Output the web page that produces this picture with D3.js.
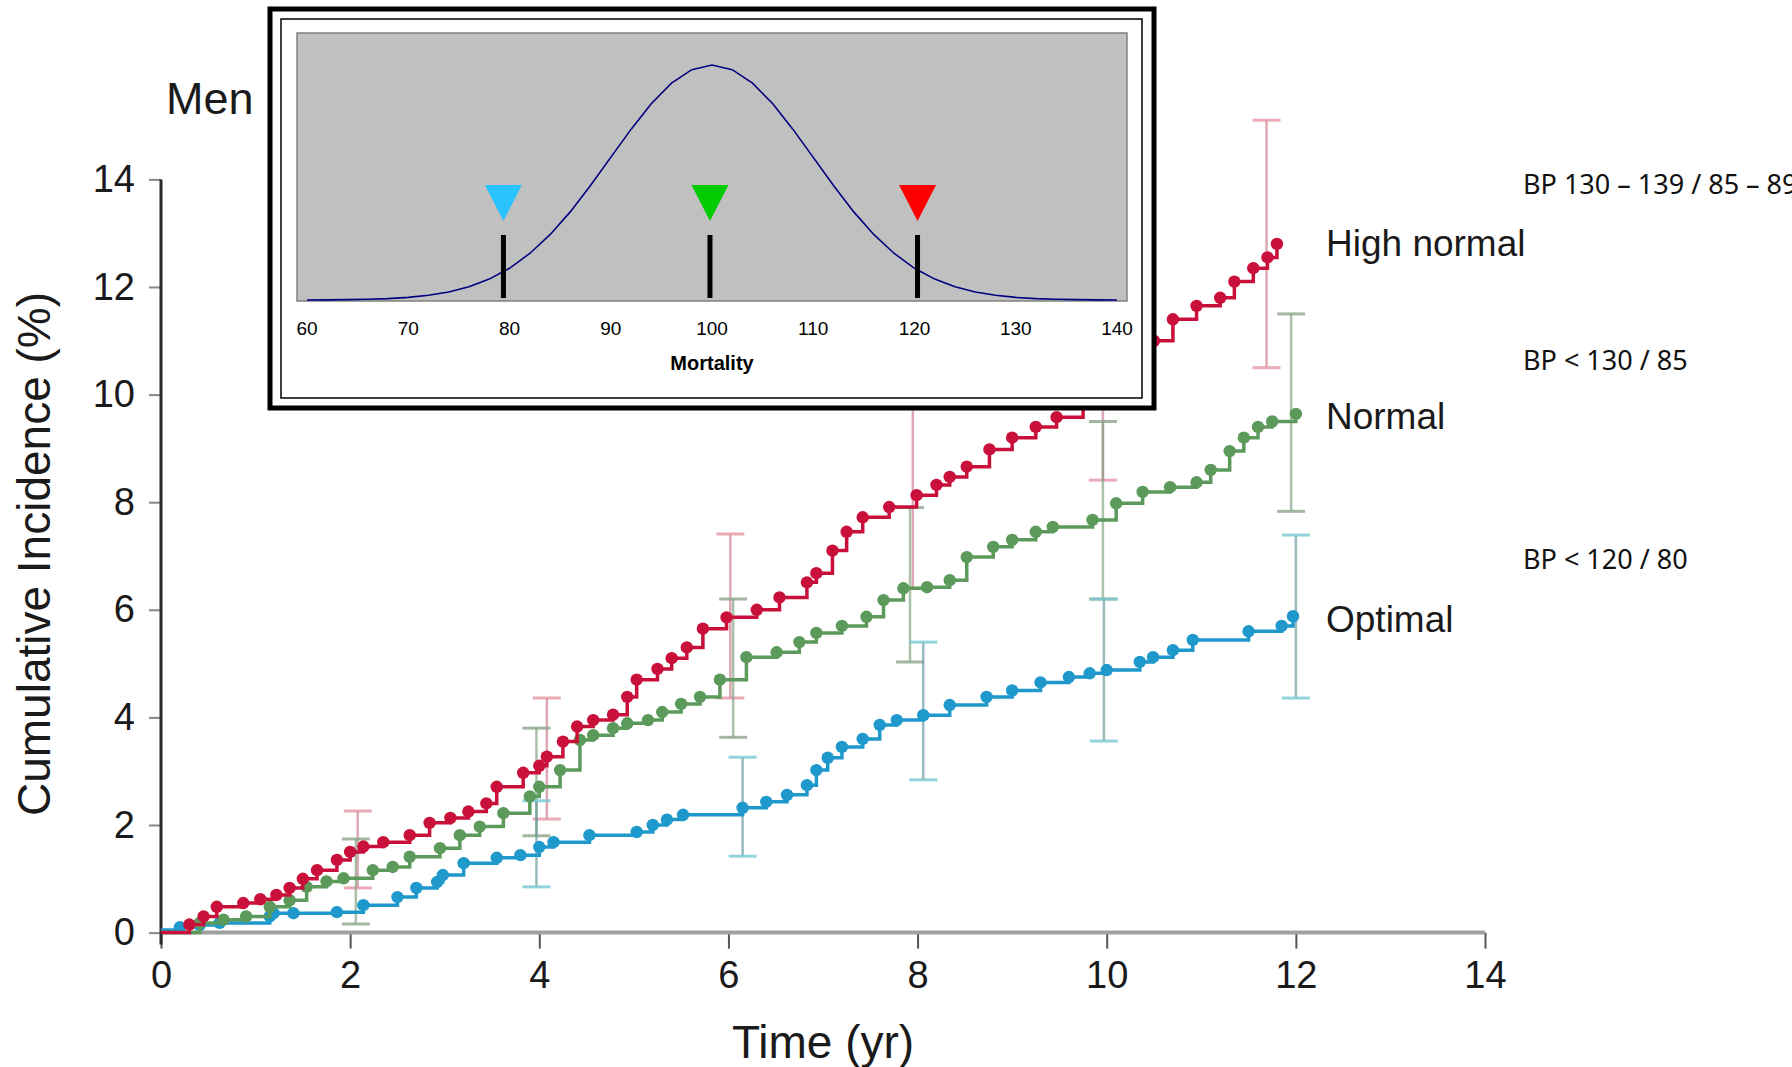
<!DOCTYPE html>
<html lang="en">
<head>
<meta charset="utf-8">
<title>Men - cumulative incidence</title>
<script src="https://cdn.jsdelivr.net/npm/d3@7"></script>
<style>
  body { margin: 0; background: #fff; }
  text { font-family: "Liberation Sans", Arial, sans-serif; }
</style>
</head>
<body>
<div id="stage"></div>
<script>
// --- data ---
var xTicks = [0, 2, 4, 6, 8, 10, 12, 14];
var yTicks = [0, 2, 4, 6, 8, 10, 12, 14];

// [time (yr), cumulative incidence (%)]
var highNormal = [[0,0],[0.3,0.15],[0.45,0.3],[0.59,0.48],[0.87,0.55],[1.05,0.62],[1.22,0.7],[1.36,0.83],[1.5,1.0],[1.65,1.16],[1.86,1.35],[2.0,1.5],[2.14,1.6],[2.35,1.68],[2.63,1.81],[2.84,2.04],[3.06,2.13],[3.25,2.25],[3.44,2.4],[3.55,2.71],[3.83,2.97],[4.0,3.1],[4.08,3.27],[4.25,3.55],[4.4,3.83],[4.57,3.95],[4.78,4.05],[4.93,4.38],[5.03,4.7],[5.25,4.9],[5.4,5.1],[5.56,5.3],[5.73,5.65],[5.98,5.86],[6.3,6.0],[6.54,6.23],[6.83,6.51],[6.93,6.68],[7.1,7.1],[7.25,7.45],[7.42,7.72],[7.7,7.91],[7.99,8.13],[8.2,8.32],[8.34,8.47],[8.52,8.66],[8.76,8.98],[9.0,9.2],[9.25,9.4],[9.47,9.58],[9.75,9.86],[9.95,10.05],[10.15,10.4],[10.35,10.75],[10.5,11.0],[10.7,11.4],[10.95,11.65],[11.2,11.8],[11.35,12.1],[11.55,12.35],[11.7,12.55],[11.8,12.8]];
var normal = [[0,0],[0.41,0.18],[0.66,0.24],[0.9,0.3],[1.15,0.48],[1.36,0.6],[1.54,0.85],[1.75,0.95],[1.93,1.01],[2.24,1.16],[2.45,1.22],[2.63,1.41],[2.95,1.57],[3.16,1.81],[3.37,1.97],[3.62,2.22],[3.9,2.53],[4.0,2.71],[4.22,3.02],[4.43,3.58],[4.57,3.67],[4.78,3.8],[4.93,3.89],[5.15,3.95],[5.3,4.1],[5.5,4.25],[5.7,4.38],[5.91,4.7],[6.19,5.12],[6.51,5.21],[6.75,5.4],[6.93,5.57],[7.2,5.7],[7.46,5.87],[7.64,6.18],[7.85,6.4],[8.1,6.42],[8.34,6.55],[8.52,6.98],[8.8,7.17],[9.0,7.3],[9.25,7.45],[9.43,7.54],[9.85,7.67],[10.1,7.98],[10.38,8.19],[10.67,8.28],[10.95,8.37],[11.1,8.6],[11.3,8.95],[11.45,9.2],[11.6,9.4],[11.75,9.5],[12.0,9.64]];
var optimal = [[0,0.05],[0.2,0.1],[0.41,0.14],[0.62,0.18],[1.15,0.3],[1.19,0.36],[1.4,0.36],[1.86,0.38],[2.14,0.51],[2.5,0.66],[2.7,0.83],[2.92,0.94],[2.98,1.07],[3.2,1.29],[3.55,1.39],[3.8,1.44],[4.0,1.59],[4.15,1.68],[4.53,1.81],[5.03,1.87],[5.2,2.0],[5.35,2.1],[5.52,2.19],[6.15,2.32],[6.4,2.43],[6.62,2.56],[6.83,2.74],[6.93,3.02],[7.05,3.25],[7.2,3.45],[7.42,3.6],[7.6,3.86],[7.78,3.95],[8.06,4.04],[8.34,4.23],[8.73,4.38],[9.0,4.5],[9.3,4.65],[9.6,4.75],[9.82,4.82],[10.0,4.88],[10.35,5.03],[10.49,5.12],[10.7,5.25],[10.91,5.44],[11.5,5.6],[11.85,5.7],[11.97,5.88]];

// [time, lower, upper]
var highNormalCI = [[2.08,0.83,2.26],[4.08,2.11,4.36],[6.02,4.36,7.41],[7.95,6.4,10.4],[9.96,8.41,12.6],[11.69,10.5,15.1]];
var normalCI = [[2.06,0.16,1.74],[3.97,1.8,3.8],[6.05,3.63,6.2],[7.92,5.03,7.9],[9.96,6.2,9.5],[11.95,7.83,11.5]];
var optimalCI = [[3.97,0.85,2.45],[6.15,1.42,3.26],[8.06,2.84,5.4],[9.97,3.56,6.2],[12.0,4.36,7.39]];

var seriesNames = ["High normal", "Normal", "Optimal"];
var bpLabels = ["BP 130 \u2013 139 / 85 \u2013 89", "BP < 130 / 85", "BP < 120 / 80"];

// inset: mortality distribution
var mortalityTicks = [60, 70, 80, 90, 100, 110, 120, 130, 140];
var mortalityCurve = [[60,0.0003],[62,0.0007],[64,0.0015],[66,0.003],[68,0.006],[70,0.011],[72,0.02],[74,0.034],[76,0.056],[78,0.089],[80,0.135],[82,0.198],[84,0.278],[86,0.375],[88,0.487],[90,0.607],[92,0.726],[94,0.835],[96,0.923],[98,0.98],[100,1],[102,0.98],[104,0.923],[106,0.835],[108,0.726],[110,0.607],[112,0.487],[114,0.375],[116,0.278],[118,0.198],[120,0.135],[122,0.089],[124,0.056],[126,0.034],[128,0.02],[130,0.011],[132,0.006],[134,0.003],[136,0.0015],[138,0.0007],[140,0.0003]];
var markerValues = [79.4, 99.8, 120.3];
var markerColors = ["#29c3ff", "#00cc00", "#ff0000"];

// --- drawing ---
var W = 1792, H = 1067;
var svg = d3.select("#stage").append("svg").attr("width", W).attr("height", H);

var x = d3.scaleLinear().domain([0, 14]).range([161, 1485]);
var y = d3.scaleLinear().domain([0, 14]).range([932.6, 179.4]);

var colors = ["#c8103a", "#5c9a5c", "#1f98cc"];
var ciColors = ["rgba(205,120,140,0.65)", "rgba(125,160,125,0.65)", "rgba(100,150,155,0.65)"];
var capColors = ["rgba(230,150,165,0.8)", "rgba(140,165,140,0.8)", "rgba(120,200,210,0.8)"];

// x axis
var xAxis = svg.append("g").attr("transform", "translate(0," + y(0) + ")")
  .call(d3.axisBottom(x).tickValues(xTicks).tickSize(16).tickPadding(12));
xAxis.select(".domain").remove();
xAxis.selectAll(".tick line").attr("stroke", "#555").attr("stroke-width", 2);
xAxis.selectAll(".tick text").attr("font-size", 38).attr("fill", "#1a1a1a");
svg.append("line").attr("x1", x(0)).attr("x2", x(14)).attr("y1", y(0)).attr("y2", y(0))
  .attr("stroke", "#a0a0a0").attr("stroke-width", 4);

// y axis
var yAxis = svg.append("g").attr("transform", "translate(" + x(0) + ",0)")
  .call(d3.axisLeft(y).tickValues(yTicks).tickSize(12).tickPadding(14));
yAxis.select(".domain").remove();
yAxis.selectAll(".tick line").attr("stroke", "#888").attr("stroke-width", 2);
yAxis.selectAll(".tick text").attr("font-size", 38).attr("fill", "#1a1a1a");
svg.append("line").attr("x1", x(0)).attr("x2", x(0)).attr("y1", y(14)).attr("y2", y(0) + 12)
  .attr("stroke", "#2a2a2a").attr("stroke-width", 3);

// axis titles
svg.append("text").attr("x", 823).attr("y", 1058).attr("text-anchor", "middle")
  .attr("font-size", 46).attr("fill", "#1a1a1a").text("Time (yr)");
svg.append("text").attr("transform", "translate(50,554) rotate(-90)").attr("text-anchor", "middle")
  .attr("font-size", 46).attr("fill", "#1a1a1a").text("Cumulative Incidence (%)");
svg.append("text").attr("x", 166).attr("y", 114).attr("font-size", 45).attr("fill", "#1a1a1a").text("Men");

// error bars
[highNormalCI, normalCI, optimalCI].forEach(function (ci, i) {
  var g = svg.append("g");
  g.selectAll("line.bar").data(ci).enter().append("line")
    .attr("x1", function (d) { return x(d[0]); }).attr("x2", function (d) { return x(d[0]); })
    .attr("y1", function (d) { return y(d[1]); }).attr("y2", function (d) { return y(d[2]); })
    .attr("stroke", ciColors[i]).attr("stroke-width", 2.5);
  [1, 2].forEach(function (k) {
    g.selectAll("line.cap" + k).data(ci).enter().append("line")
      .attr("x1", function (d) { return x(d[0]) - 14; }).attr("x2", function (d) { return x(d[0]) + 14; })
      .attr("y1", function (d) { return y(d[k]); }).attr("y2", function (d) { return y(d[k]); })
      .attr("stroke", capColors[i]).attr("stroke-width", 3);
  });
});

// survival-type step curves with dots
var line = d3.line().curve(d3.curveStepAfter)
  .x(function (d) { return x(d[0]); }).y(function (d) { return y(d[1]); });
[optimal, normal, highNormal].forEach(function (s, j) {
  var i = 2 - j;
  svg.append("path").datum(s).attr("d", line).attr("fill", "none")
    .attr("stroke", colors[i]).attr("stroke-width", 3.5);
  svg.append("g").selectAll("circle").data(s.slice(1)).enter().append("circle")
    .attr("cx", function (d) { return x(d[0]); }).attr("cy", function (d) { return y(d[1]); })
    .attr("r", 6.2).attr("fill", colors[i]);
});

// series labels
var labelY = [256, 429, 632];
seriesNames.forEach(function (n, i) {
  svg.append("text").attr("x", 1326).attr("y", labelY[i]).attr("font-size", 37)
    .attr("fill", "#1a1a1a").text(n);
});
var bpY = [194, 370, 569];
bpLabels.forEach(function (n, i) {
  svg.append("text").attr("x", 1523).attr("y", bpY[i]).attr("font-size", 27)
    .style("font-family", "'Noto Sans', sans-serif").attr("fill", "#111").text(n);
});

// --- inset ---
var inset = svg.append("g");
inset.append("rect").attr("x", 270).attr("y", 9).attr("width", 884).attr("height", 399)
  .attr("fill", "#fff").attr("stroke", "#000").attr("stroke-width", 5);
inset.append("rect").attr("x", 281).attr("y", 19).attr("width", 861).attr("height", 379)
  .attr("fill", "none").attr("stroke", "#000").attr("stroke-width", 1.5);

var ix = d3.scaleLinear().domain([60, 140]).range([307, 1117]);
var iy = d3.scaleLinear().domain([0, 1]).range([300, 65]);

inset.append("rect").attr("x", ix(60) - 10).attr("y", 33).attr("width", ix(140) - ix(60) + 20)
  .attr("height", iy(0) - 33 + 1).attr("fill", "#c0c0c0").attr("stroke", "#808080").attr("stroke-width", 1.5);

inset.append("path").datum(mortalityCurve)
  .attr("d", d3.line().x(function (d) { return ix(d[0]); }).y(function (d) { return iy(d[1]); }))
  .attr("fill", "none").attr("stroke", "#000080").attr("stroke-width", 1.6);

inset.selectAll("rect.marker").data(markerValues).enter().append("rect")
  .attr("x", function (d) { return ix(d) - 2.5; }).attr("y", 235).attr("width", 5).attr("height", 63)
  .attr("fill", "#000");
inset.selectAll("path.tri").data(markerValues).enter().append("path")
  .attr("d", function (d) {
    var cx = ix(d);
    return "M" + (cx - 18.5) + ",185L" + (cx + 18.5) + ",185L" + cx + ",221Z";
  })
  .attr("fill", function (d, i) { return markerColors[i]; });

inset.selectAll("text.tick").data(mortalityTicks).enter().append("text")
  .attr("x", function (d) { return ix(d); }).attr("y", 335).attr("text-anchor", "middle")
  .attr("font-size", 19).attr("fill", "#000").text(function (d) { return d; });
inset.append("text").attr("x", 712).attr("y", 370).attr("text-anchor", "middle")
  .attr("font-size", 20).attr("font-weight", "bold").attr("fill", "#000").text("Mortality");
</script>
</body>
</html>
